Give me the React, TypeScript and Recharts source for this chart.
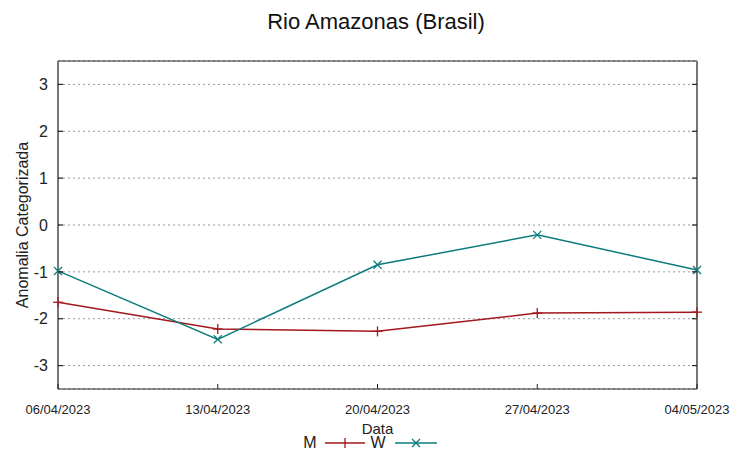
import { LineChart, Line, XAxis, YAxis, CartesianGrid, Label, ReferenceLine, Text } from 'recharts';

const dates = ['06/04/2023', '13/04/2023', '20/04/2023', '27/04/2023', '04/05/2023'];
const seriesM = [-1.65, -2.22, -2.27, -1.88, -1.86];
const seriesW = [-0.98, -2.44, -0.85, -0.21, -0.96];
const yTicks = [-3, -2, -1, 0, 1, 2, 3];

const data = dates.map((d, i) => ({ date: d, M: seriesM[i], W: seriesW[i] }));

const RED = '#a3171e';
const TEAL = '#0d7b7b';
const FONT = 'Liberation Sans, Arial, sans-serif';
const PLOT_W = 639;
const X_GAP = 16;
const Y_GAP = 10;

const PlusDot = (props: any) => {
  const { cx, cy } = props;
  if (cx == null || cy == null) return null;
  return (
    <g stroke={RED} strokeWidth={1.3}>
      <line x1={cx - 5} y1={cy} x2={cx + 5} y2={cy} />
      <line x1={cx} y1={cy - 5} x2={cx} y2={cy + 5} />
    </g>
  );
};

const CrossDot = (props: any) => {
  const { cx, cy } = props;
  if (cx == null || cy == null) return null;
  return (
    <g stroke={TEAL} strokeWidth={1.3}>
      <line x1={cx - 4} y1={cy - 4} x2={cx + 4} y2={cy + 4} />
      <line x1={cx - 4} y1={cy + 4} x2={cx + 4} y2={cy - 4} />
    </g>
  );
};

// x tick: label below plus a short inward mark on the bottom border
const XTick = (props: any) => {
  const { x, y, payload } = props;
  const base = y - X_GAP;
  return (
    <g>
      <line x1={x} y1={base} x2={x} y2={base - 5} stroke="#222" strokeWidth={1} />
      <Text x={x} y={y} textAnchor="middle" verticalAnchor="start" fontSize={13} fill="#222" fontFamily={FONT}>
        {payload.value}
      </Text>
    </g>
  );
};

// y tick: label left plus inward marks on both side borders
const YTick = (props: any) => {
  const { x, y, payload } = props;
  const left = x + Y_GAP;
  const right = left + PLOT_W;
  return (
    <g>
      <line x1={left} y1={y} x2={left + 5} y2={y} stroke="#222" strokeWidth={1.2} />
      <line x1={right - 5} y1={y} x2={right} y2={y} stroke="#222" strokeWidth={1.2} />
      <Text x={x} y={y} textAnchor="end" verticalAnchor="middle" fontSize={16} fill="#222" fontFamily={FONT}>
        {payload.value}
      </Text>
    </g>
  );
};

function KeyBox() {
  return (
    <svg width={736} height={30} style={{ display: 'block' }}>
      <text x={302} y={20} fontSize={16} fill="#222" textAnchor="middle" fontFamily={FONT}>M</text>
      <line x1={317} y1={15} x2={357} y2={15} stroke={RED} strokeWidth={1.5} />
      <line x1={337} y1={10} x2={337} y2={20} stroke={RED} strokeWidth={1.3} />
      <text x={370} y={20} fontSize={16} fill="#222" textAnchor="middle" fontFamily={FONT}>W</text>
      <line x1={387} y1={15} x2={429} y2={15} stroke={TEAL} strokeWidth={1.5} />
      <line x1={404} y1={11} x2={412} y2={19} stroke={TEAL} strokeWidth={1.3} />
      <line x1={404} y1={19} x2={412} y2={11} stroke={TEAL} strokeWidth={1.3} />
    </svg>
  );
}

export default function App() {
  return (
    <div style={{ position: 'relative', width: 736, height: 443, fontFamily: FONT }}>
      <div
        style={{
          position: 'absolute',
          top: 0,
          left: 0,
          width: 736,
          textAlign: 'center',
          fontSize: 22,
          color: '#111',
          lineHeight: '28px',
        }}
      >
        Rio Amazonas (Brasil)
      </div>
      <LineChart width={736} height={443} data={data} margin={{ top: 53, right: 47, bottom: 32, left: 20 }}>
        <CartesianGrid vertical={false} stroke="#999" strokeDasharray="2 3" />
        <XAxis
          dataKey="date"
          height={30}
          tick={<XTick />}
          tickLine={false}
          tickSize={0}
          tickMargin={X_GAP}
          axisLine={{ stroke: '#222', strokeWidth: 1 }}
          interval={0}
        >
          <Label value="Data" position="insideBottom" offset={-15} style={{ fontSize: 15, fill: '#222', fontFamily: FONT }} />
        </XAxis>
        <YAxis
          width={30}
          domain={[-3.5, 3.5]}
          ticks={yTicks}
          type="number"
          tick={<YTick />}
          tickLine={false}
          tickSize={0}
          tickMargin={Y_GAP}
          axisLine={{ stroke: '#777', strokeWidth: 2 }}
        >
          <Label
            value="Anomalia Categorizada"
            angle={-90}
            position="insideLeft"
            offset={-6}
            style={{ fontSize: 16, fill: '#222', fontFamily: FONT, textAnchor: 'middle' }}
          />
        </YAxis>
        <ReferenceLine y={3.5} stroke="#222" strokeWidth={1} ifOverflow="visible" />
        <ReferenceLine x={dates[dates.length - 1]} stroke="#777" strokeWidth={2} ifOverflow="visible" />
        <Line
          type="linear"
          dataKey="M"
          stroke={RED}
          strokeWidth={1.5}
          dot={<PlusDot />}
          activeDot={false}
          isAnimationActive={false}
        />
        <Line
          type="linear"
          dataKey="W"
          stroke={TEAL}
          strokeWidth={1.5}
          dot={<CrossDot />}
          activeDot={false}
          isAnimationActive={false}
        />
      </LineChart>
      <div style={{ position: 'absolute', left: 0, top: 420 }}>
        <KeyBox />
      </div>
    </div>
  );
}
